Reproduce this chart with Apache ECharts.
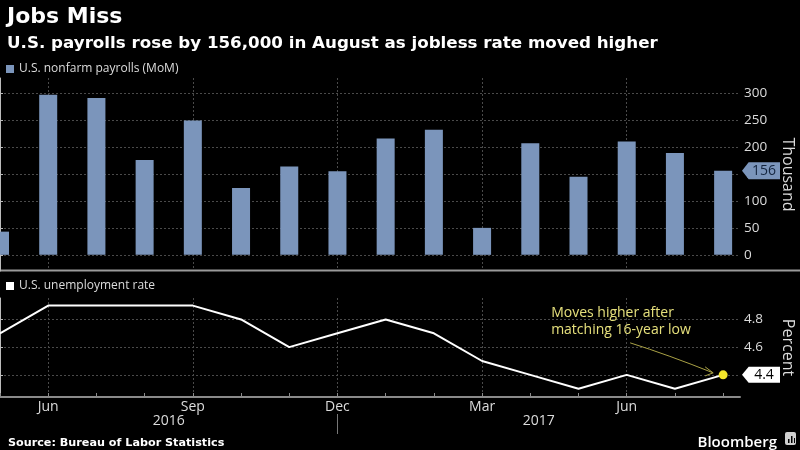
<!DOCTYPE html>
<html><head><meta charset="utf-8">
<script src="https://cdn.jsdelivr.net/npm/echarts@6/dist/echarts.min.js"></script>
<style>html,body{margin:0;padding:0;background:#000;}#c{width:800px;height:450px;}</style>
</head><body><div id="c"></div>
<script>
// ---- data ----
const months = ['May','Jun','Jul','Aug','Sep','Oct','Nov','Dec','Jan','Feb','Mar','Apr','May','Jun','Jul','Aug'];
const monthYears = [2016,2016,2016,2016,2016,2016,2016,2016,2017,2017,2017,2017,2017,2017,2017,2017];
const payrolls = [43,297,291,176,249,124,164,155,216,232,50,207,145,210,189,156];
const unemployment = [4.7,4.9,4.9,4.9,4.9,4.8,4.6,4.7,4.8,4.7,4.5,4.4,4.3,4.4,4.3,4.4];
const payrollTicks = [0,50,100,150,200,250,300];
const rateTicks = [4.4,4.6,4.8];

// ---- derived ----
const xMax = 15.35;
const allIdx = months.map((m,i)=>i);
const labelIdx = allIdx.filter(i => i % 3 === 1);
const lastIdx = months.length - 1;
const yearSplit = monthYears.indexOf(2017) - 1;
const yearLabelPos = [yearSplit / 2, (yearSplit + xMax) / 2];
const BAR = '#7b95bb';
const GRID = '#4a4a4a';
const TXT = '#dcdcdc';
const FONT = '"Open Sans", sans-serif';

const chart = echarts.init(document.getElementById('c'), null, {renderer:'canvas'});
const dotted = {show:true, lineStyle:{color:GRID, type:[2,2], width:1}};

const option = {
  backgroundColor:'#000',
  animation:false,
  title:[
    {text:'Jobs Miss', left:2, top:1, textStyle:{color:'#fff', fontSize:22, fontWeight:'bold', fontFamily:'"DejaVu Sans", sans-serif'}},
    {text:'U.S. payrolls rose by 156,000 in August as jobless rate moved higher', left:2, top:30, textStyle:{color:'#fff', fontSize:16.7, fontWeight:'bold', fontFamily:'"DejaVu Sans", sans-serif'}},
    {text:'Source: Bureau of Labor Statistics', left:3, top:433, textStyle:{color:'#fff', fontSize:11.2, fontWeight:'bold', fontFamily:'"DejaVu Sans", sans-serif'}},
    {text:'Bloomberg', right:18, top:430, textStyle:{color:'#fff', fontSize:15, fontWeight:600, fontFamily:FONT}}
  ],
  legend:[
    {data:['U.S. nonfarm payrolls (MoM)'], left:6, top:63, padding:0, icon:'rect', itemWidth:8, itemHeight:8, selectedMode:false,
     textStyle:{color:TXT, fontSize:12, fontFamily:FONT}},
    {data:['U.S. unemployment rate'], left:6, top:280, padding:0, icon:'rect', itemWidth:8, itemHeight:8, selectedMode:false,
     textStyle:{color:TXT, fontSize:12, fontFamily:FONT}}
  ],
  grid:[
    {left:0, right:60, top:78, bottom:179, containLabel:false, outerBoundsMode:'none'},
    {left:0, right:60, top:298, bottom:53, containLabel:false, outerBoundsMode:'none'}
  ],
  xAxis:[
    {type:'value', gridIndex:0, min:0, max:xMax, axisLine:{show:false}, axisLabel:{show:false},
     axisTick:{show:false, customValues:labelIdx}, splitLine:dotted},
    {type:'value', gridIndex:1, min:0, max:xMax, position:'bottom',
     axisLine:{show:true, onZero:false, lineStyle:{color:'#8a8a8a', width:2}},
     axisTick:{show:true, inside:true, length:4, customValues:allIdx, lineStyle:{color:'#8a8a8a'}},
     axisLabel:{show:false}, splitLine:{show:false}},
    {type:'value', gridIndex:1, min:0, max:xMax, position:'bottom',
     axisLine:{show:false}, axisTick:{show:false, customValues:labelIdx},
     axisLabel:{show:true, customValues:labelIdx, margin:3, color:TXT, fontSize:14, fontFamily:FONT,
       formatter:v => months[Math.round(v)]},
     splitLine:dotted},
    {type:'value', gridIndex:1, min:0, max:xMax, position:'bottom', offset:17,
     axisLine:{show:false},
     axisTick:{show:true, inside:false, length:20, customValues:[yearSplit], lineStyle:{color:'#777'}},
     axisLabel:{show:true, customValues:yearLabelPos, margin:0, color:TXT, fontSize:14, fontFamily:FONT,
       formatter:v => String(v < yearSplit ? monthYears[0] : monthYears[lastIdx])},
     splitLine:{show:false}}
  ],
  yAxis:[
    {type:'value', gridIndex:0, position:'right', min:-30, max:328,
     axisLine:{show:true, lineStyle:{color:'#bbb'}},
     axisTick:{show:true, length:3, customValues:payrollTicks, lineStyle:{color:'#bbb'}},
     axisLabel:{show:true, customValues:payrollTicks, margin:4, color:TXT, fontSize:13.5, fontFamily:FONT},
     splitLine:dotted,
     name:'Thousand', nameLocation:'middle', nameRotate:-90, nameGap:40,
     nameTextStyle:{color:TXT, fontSize:16, fontFamily:FONT}},
    {type:'value', gridIndex:1, position:'right', min:4.24, max:4.955,
     axisLine:{show:true, lineStyle:{color:'#bbb'}},
     axisTick:{show:true, length:3, customValues:rateTicks, lineStyle:{color:'#bbb'}},
     axisLabel:{show:true, customValues:rateTicks, margin:4, color:TXT, fontSize:13.5, fontFamily:FONT,
       formatter:v => v.toFixed(1)},
     splitLine:dotted,
     name:'Percent', nameLocation:'middle', nameRotate:-90, nameGap:40,
     nameTextStyle:{color:TXT, fontSize:16, fontFamily:FONT}}
  ],
  series:[
    {name:'U.S. nonfarm payrolls (MoM)', type:'bar', xAxisIndex:0, yAxisIndex:0, barWidth:18, clip:false,
     itemStyle:{color:BAR}, data:payrolls.map((v,i)=>[i,v]),
     markPoint:{symbol:'path://M0,8 L7,0 L40,0 L40,16 L7,16 Z', symbolSize:[38,17], symbolOffset:[21,0],
       silent:true, itemStyle:{color:BAR},
       label:{show:true, position:'inside', offset:[3,0], color:'#14253f', fontSize:14, fontFamily:FONT, formatter:()=>String(payrolls[lastIdx])},
       data:[{coord:[xMax, payrolls[lastIdx]]}]}},
    {name:'U.S. unemployment rate', type:'line', xAxisIndex:1, yAxisIndex:1, clip:false,
     symbol:'none', lineStyle:{color:'#fff', width:2}, itemStyle:{color:'#fff'},
     data:unemployment.map((v,i)=>[i,v]),
     markPoint:{silent:true,
       data:[
         {coord:[lastIdx, unemployment[lastIdx]], symbol:'circle', symbolSize:9, itemStyle:{color:'#f4e62a'}, label:{show:false}},
         {coord:[xMax, unemployment[lastIdx]], symbol:'path://M0,8 L7,0 L40,0 L40,16 L7,16 Z', symbolSize:[38,16], symbolOffset:[21,0],
          itemStyle:{color:'#fff'},
          label:{show:true, position:'inside', offset:[3,0], color:'#000', fontSize:14, fontFamily:FONT, formatter:()=>unemployment[lastIdx].toFixed(1)}}
       ]}}
  ]
};
chart.setOption(option);

// annotation, anchored to the last unemployment point
const p = chart.convertToPixel({xAxisIndex:1, yAxisIndex:1}, [lastIdx, unemployment[lastIdx]]);
const ex = p[0] - 10, ey = p[1] - 2;
chart.setOption({
  graphic:[
    {type:'line', shape:{x1:0, y1:270.5, x2:800, y2:270.5}, style:{stroke:'#9a9a9a', lineWidth:2}, silent:true},
    {type:'text', left:p[0]-172, top:p[1]-71, style:{text:'Moves higher after\nmatching 16-year low', fill:'#e6e07c', fontSize:14, lineHeight:17.5, fontFamily:FONT}},
    {type:'bezierCurve', shape:{x1:p[0]-93, y1:p[1]-32, cpx1:p[0]-55, cpy1:p[1]-20, x2:ex, y2:ey}, style:{stroke:'#a9a145', lineWidth:1, fill:null}},
    {type:'polyline', shape:{points:[[ex-8, ey-6],[ex, ey],[ex-8, ey+3]]}, style:{stroke:'#a9a145', lineWidth:1, fill:null}},
    {type:'rect', shape:{x:785, y:432, width:11, height:13, r:2}, style:{fill:'#cfcfcf'}},
    {type:'rect', shape:{x:788, y:439, width:1.5, height:4}, style:{fill:'#000'}},
    {type:'rect', shape:{x:791, y:436, width:1.5, height:7}, style:{fill:'#000'}},
    {type:'rect', shape:{x:794, y:438, width:1, height:5}, style:{fill:'#000'}}
  ]
});
</script>
</body></html>
